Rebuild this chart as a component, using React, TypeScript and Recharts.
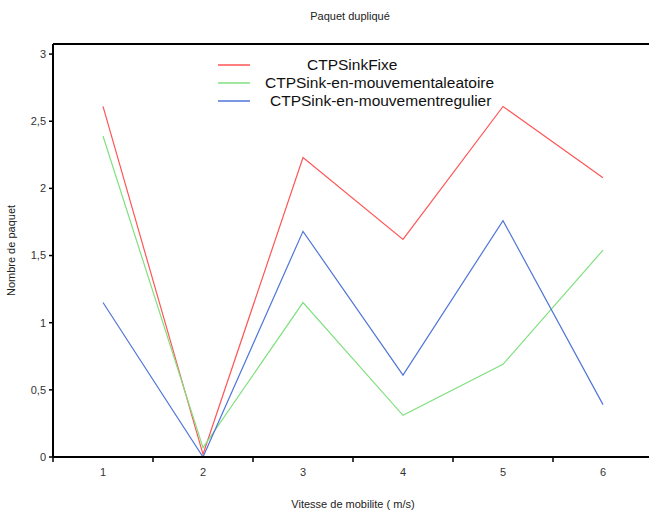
import { Line, LineChart, ReferenceLine, XAxis, YAxis } from "recharts";

const speeds = [1, 2, 3, 4, 5, 6];
const sinkFixe = [2.61, 0.02, 2.23, 1.62, 2.61, 2.08];
const sinkAleatoire = [2.39, 0.07, 1.15, 0.31, 0.69, 1.54];
const sinkRegulier = [1.15, 0, 1.68, 0.61, 1.76, 0.39];
const yTicks = [0, 0.5, 1, 1.5, 2, 2.5, 3];
const bandEdges = [0.5, 1.5, 2.5, 3.5, 4.5, 5.5, 6.5];
const seriesKeys = ["fixe", "aleatoire", "regulier"];
const seriesNames = ["CTPSinkFixe", "CTPSink-en-mouvementaleatoire", "CTPSink-en-mouvementregulier"];
const seriesColors = ["#ff5555", "#80e080", "#5075d8"];
// gap between legend swatch and its text, per row (excel-ish uneven layout)
const legendGaps = [57, 15, 20];

const FONT = '"Liberation Sans", Arial, sans-serif';
const Y_MAX = 3.075;

const data = speeds.map((x, i) => ({
  x,
  fixe: sinkFixe[i],
  aleatoire: sinkAleatoire[i],
  regulier: sinkRegulier[i]
}));

function formatComma(v: number): string {
  return String(v).replace(".", ",");
}

function LegendBox() {
  return (
    <div style={{ position: "absolute", top: 56, left: 218, fontFamily: FONT, fontSize: 15.5, color: "#111" }}>
      {seriesNames.map((name, i) => (
        <div key={name} style={{ display: "flex", alignItems: "center", height: 18 }}>
          <svg width={32} height={4} style={{ flex: "none" }}>
            <line x1={0} y1={2} x2={32} y2={2} stroke={seriesColors[i]} strokeWidth={1.5} />
          </svg>
          <span style={{ marginLeft: legendGaps[i], whiteSpace: "nowrap" }}>{name}</span>
        </div>
      ))}
    </div>
  );
}

function YLabel(props: any) {
  const vb = props.viewBox ?? { x: 0, y: 0, width: 0, height: 0 };
  const cx = vb.x + 12;
  const cy = vb.y + vb.height / 2;
  return (
    <text
      x={cx}
      y={cy}
      transform={`rotate(-90 ${cx} ${cy})`}
      textAnchor="middle"
      dominantBaseline="middle"
      fontFamily={FONT}
      fontSize={11}
      fill="#222"
    >
      Nombre de paquet
    </text>
  );
}

export default function App() {
  return (
    <div style={{ position: "fixed", left: 0, top: 0, width: 649, height: 515, overflow: "hidden", background: "#fff" }}>
      <div
        style={{
          position: "absolute",
          top: 10,
          left: 0,
          width: 700,
          textAlign: "center",
          fontFamily: FONT,
          fontSize: 11,
          color: "#222"
        }}
      >
        Paquet dupliqué
      </div>
      <LineChart width={660} height={515} data={data} margin={{ top: 44, right: 7, bottom: 0, left: 0 }}>
        <YAxis
          type="number"
          domain={[0, Y_MAX]}
          ticks={yTicks}
          interval={0}
          width={53}
          tickFormatter={formatComma}
          tick={{ fill: "#333", fontSize: 11, fontFamily: FONT }}
          tickSize={4}
          tickMargin={3}
          stroke="#000"
          axisLine={{ stroke: "#000", strokeWidth: 2 }}
          tickLine={{ stroke: "#000", strokeWidth: 1.5 }}
          label={<YLabel />}
        />
        <XAxis
          xAxisId="a-marks"
          type="number"
          dataKey="x"
          domain={[0.5, 6.5]}
          ticks={bandEdges}
          interval={0}
          tickFormatter={() => ""}
          tickSize={5}
          height={8}
          stroke="#000"
          axisLine={{ stroke: "#000", strokeWidth: 2 }}
          tickLine={{ stroke: "#000", strokeWidth: 1.5 }}
        />
        <XAxis
          xAxisId="b-labels"
          type="number"
          dataKey="x"
          domain={[0.5, 6.5]}
          ticks={speeds}
          interval={0}
          height={50}
          axisLine={false}
          tickLine={false}
          tickSize={0}
          tickMargin={3}
          tick={{ fill: "#333", fontSize: 11, fontFamily: FONT }}
          label={{
            value: "Vitesse de mobilite ( m/s)",
            position: "insideBottom",
            offset: 7,
            fill: "#222",
            fontSize: 11,
            fontFamily: FONT
          }}
        />
        <ReferenceLine xAxisId="b-labels" y={Y_MAX} stroke="#000" strokeWidth={2} ifOverflow="visible" />
        {seriesKeys.map((k, i) => (
          <Line
            key={k}
            xAxisId="b-labels"
            type="linear"
            dataKey={k}
            name={seriesNames[i]}
            stroke={seriesColors[i]}
            strokeWidth={1.2}
            dot={false}
            isAnimationActive={false}
          />
        ))}
      </LineChart>
      <LegendBox />
    </div>
  );
}
